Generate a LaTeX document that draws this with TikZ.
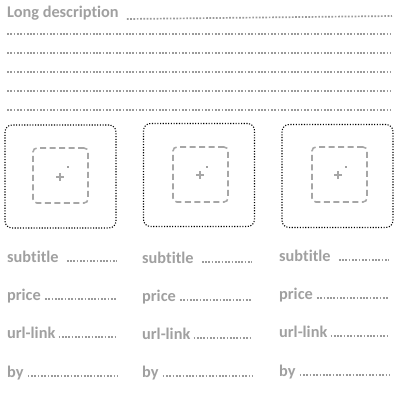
\documentclass[tikz,border=0pt]{standalone}
\usepackage{fontspec}
\setmainfont{Carlito}[Ligatures={NoCommon}]
\definecolor{txtgray}{HTML}{A0A0A0}
\definecolor{dotgray}{HTML}{9A9A9A}
\definecolor{dashgray}{HTML}{A6A6A6}
\begin{document}
\begin{tikzpicture}[x=1pt,y=-1pt,
  lbl/.style={anchor=base west,inner sep=0pt,text=txtgray,font=\fontsize{16.3}{19}\selectfont\bfseries},
  rule/.style={draw=dotgray,line width=1.7pt,dash pattern=on 1.7pt off 1.6pt},
  outerbox/.style={draw=black,line width=1.1pt,dash pattern=on 1.1pt off 1.6pt,rounded corners=7pt,minimum width=111pt,minimum height=103pt,inner sep=0pt},
  innerbox/.style={draw=dashgray,line width=1.6pt,dash pattern=on 6pt off 3.5pt,rounded corners=4pt,minimum width=55pt,minimum height=55pt,inner sep=0pt},
  plusmark/.style={draw=dashgray,line width=1.4pt},
  pointdot/.style={circle,fill=black!75,inner sep=0pt,minimum size=1.8pt}
]
\useasboundingbox (0,0) rectangle (400,413);
% header
\node[lbl] (ld) at (7,17.5) {Long description};
\coordinate (ldend) at (392,16);
\draw[rule] ([xshift=8pt,yshift=-1.5pt]ld.base east) -- (ldend);
\foreach \y [count=\i] in {34,53,72,91,110}{
  \coordinate (ls\i) at (7,\y);
  \coordinate (le\i) at (391,\y);
  \draw[rule] (ls\i) -- (le\i);
}
% boxes
\foreach \n/\ox/\oy/\ix/\iy/\px/\py/\dx/\dy in {
  a/60.5/176.5/60.5/175.5/60/177/68/167,
  b/199/175/200.5/174.5/200/175/207/167,
  c/337.5/176/339.5/174.5/338/175/346/167}{
  \node[outerbox] (out\n) at (\ox,\oy) {};
  \node[innerbox] (in\n) at (\ix,\iy) {};
  \coordinate (pl\n) at (\px,\py);
  \draw[plusmark] ([xshift=-4pt]pl\n) -- ([xshift=4pt]pl\n) ([yshift=-4pt]pl\n) -- ([yshift=4pt]pl\n);
  \node[pointdot] (dot\n) at (\dx,\dy) {};
}
% column texts
\foreach \c/\x/\e/\ya/\yb/\yc/\yd in {
  a/7/117/262/300/338/377,
  b/142/252/263/301/339/377,
  c/279/389/261/299/337/376}{
  \node[lbl] (sub\c) at (\x,\ya) {subtitle};
  \node[lbl] (pri\c) at (\x,\yb) {price};
  \node[lbl] (url\c) at (\x,\yc) {url-link};
  \node[lbl] (by\c) at (\x,\yd) {by};
  \coordinate (esub\c) at (\e,\ya-1.2);
  \coordinate (epri\c) at (\e,\yb-1.2);
  \coordinate (eurl\c) at (\e,\yc-1.2);
  \coordinate (eby\c) at (\e,\yd-1.2);
  \draw[rule] ([xshift=8pt,yshift=1.2pt]sub\c.base east) -- (esub\c);
  \draw[rule] ([xshift=4pt,yshift=1.2pt]pri\c.base east) -- (epri\c);
  \draw[rule] ([xshift=3pt,yshift=1.2pt]url\c.base east) -- (eurl\c);
  \draw[rule] ([xshift=4pt,yshift=1.2pt]by\c.base east) -- (eby\c);
}
\end{tikzpicture}
\end{document}
